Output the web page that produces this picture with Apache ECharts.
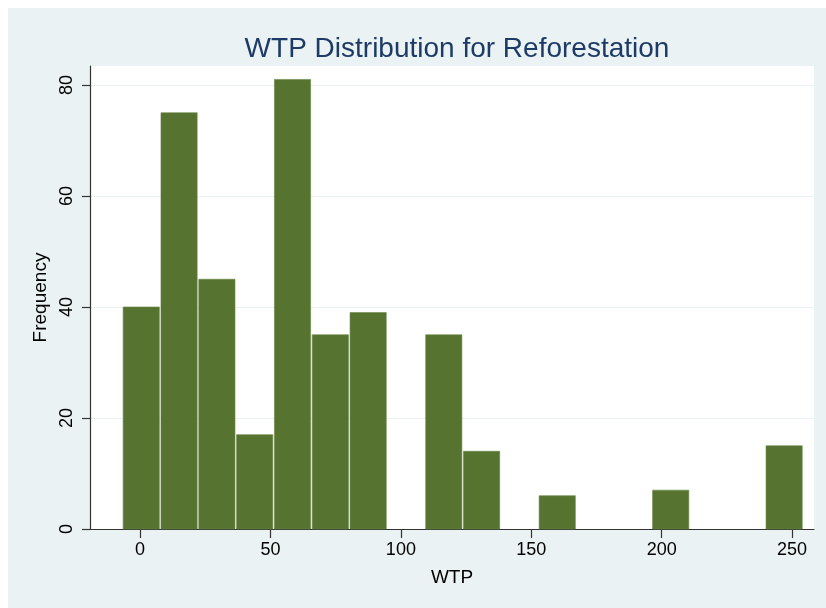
<!DOCTYPE html>
<html>
<head>
<meta charset="utf-8">
<script src="https://cdn.jsdelivr.net/npm/echarts@6/dist/echarts.min.js"></script>
<style>
  html, body { margin: 0; padding: 0; background: #ffffff; }
  #bg { position: absolute; left: 8px; top: 8px; width: 818px; height: 600px; background: #EAF2F3; }
  #chart { position: absolute; left: 0; top: 0; width: 826px; height: 608px; }
</style>
</head>
<body>
<div id="bg"></div>
<div id="chart"></div>
<script>
// Histogram bins (lower edges, WTP) and frequencies
const binStarts = [-6.8, 7.7, 22.2, 36.7, 51.2, 65.7, 80.2, 94.7, 109.2, 123.7, 138.2, 152.7, 167.2, 181.7, 196.2, 210.7, 225.2, 239.7];
const binWidth = 14.5;
const frequencies = [40, 75, 45, 17, 81, 35, 39, 0, 35, 14, 0, 6, 0, 0, 7, 0, 0, 15];
const xTicks = [0, 50, 100, 150, 200, 250];
const yTicks = [0, 20, 40, 60, 80];

const titleText = 'WTP Distribution for Reforestation';
const xName = 'WTP';
const yName = 'Frequency';

const FONT = "'Liberation Sans', Arial, Helvetica, sans-serif";

const data = binStarts.map((s, i) => [s, s + binWidth, frequencies[i]]);

const chart = echarts.init(document.getElementById('chart'), null, { renderer: 'canvas' });
chart.setOption({
  backgroundColor: 'transparent',
  animation: false,
  title: {
    text: titleText,
    left: 452,
    top: 30,
    textAlign: 'center',
    textStyle: { color: '#1D3B66', fontSize: 28, fontWeight: 'normal', fontFamily: FONT }
  },
  grid: {
    left: 90, right: 12, top: 66, bottom: 79,
    show: true, backgroundColor: '#ffffff', borderWidth: 0
  },
  xAxis: {
    type: 'value',
    min: -19.2,
    max: 258.4,
    name: xName,
    nameLocation: 'middle',
    nameGap: 39,
    nameTextStyle: { color: '#000', fontSize: 19, fontFamily: FONT },
    axisLine: { show: true, onZero: false, lineStyle: { color: '#333', width: 1.2 } },
    axisTick: { show: true, length: 9, customValues: xTicks, lineStyle: { color: '#333', width: 1.2 } },
    axisLabel: { customValues: xTicks, margin: 12, color: '#000', fontSize: 18, fontFamily: FONT },
    splitLine: { show: false }
  },
  yAxis: {
    type: 'value',
    min: 0,
    max: 83.42,
    interval: 20,
    name: yName,
    nameLocation: 'middle',
    nameGap: 36,
    nameRotate: 90,
    nameTextStyle: { color: '#000', fontSize: 19, fontFamily: FONT },
    axisLine: { show: true, onZero: false, lineStyle: { color: '#333', width: 1.2 } },
    axisTick: { show: true, length: 8, customValues: yTicks, lineStyle: { color: '#333', width: 1.2 } },
    axisLabel: { customValues: yTicks, rotate: 90, margin: 14, color: '#000', fontSize: 18, fontFamily: FONT },
    splitLine: { show: true, lineStyle: { color: '#EAF2F3', width: 1.2 } }
  },
  series: [{
    type: 'custom',
    data: data,
    encode: { x: [0, 1], y: 2 },
    renderItem: function (params, api) {
      const v = api.value(2);
      if (!v) return null;
      const p0 = api.coord([api.value(0), v]);
      const p1 = api.coord([api.value(1), 0]);
      const gap = 0.8;
      return {
        type: 'rect',
        shape: { x: p0[0] + gap, y: p0[1], width: p1[0] - p0[0] - 2 * gap, height: p1[1] - p0[1] },
        style: { fill: '#56742F', stroke: '#6A8548', lineWidth: 0.6 }
      };
    }
  }]
});
</script>
</body>
</html>
